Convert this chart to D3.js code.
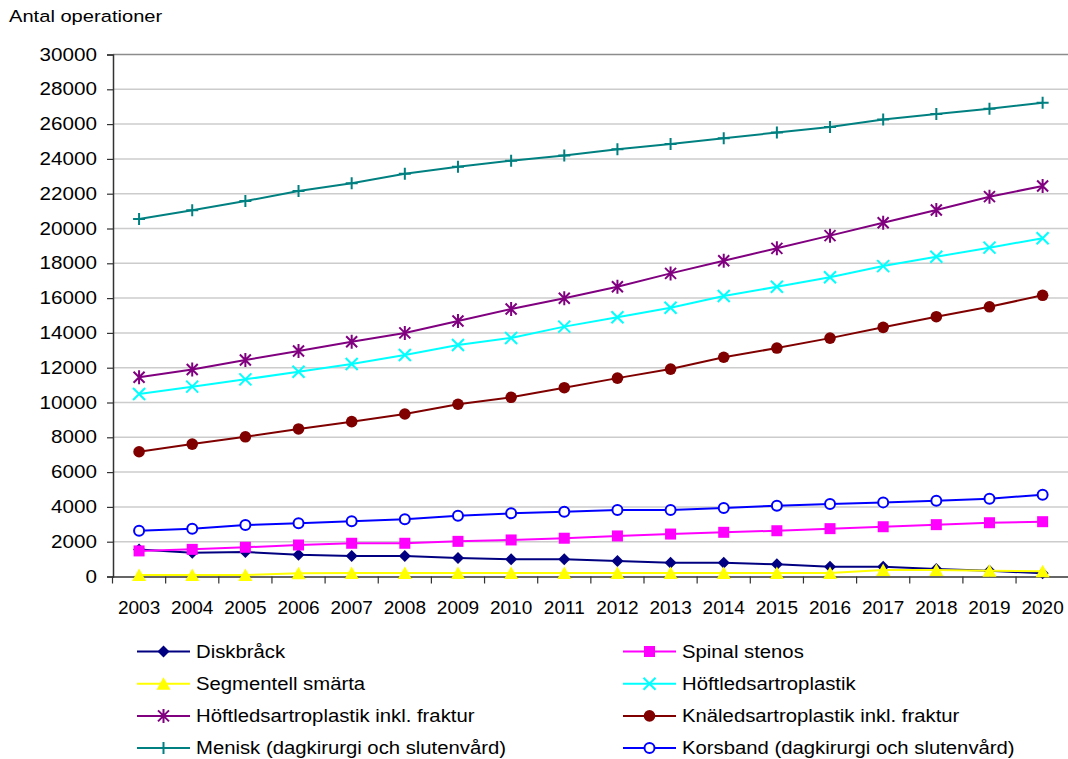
<!DOCTYPE html>
<html>
<head>
<meta charset="utf-8">
<script src="https://cdn.jsdelivr.net/npm/d3@7"></script>
<style>
  body { margin: 0; background: #fff; }
  svg { display: block; font-family: "Liberation Sans", Arial, sans-serif; }
</style>
</head>
<body>
<svg id="chart" width="1068" height="759"></svg>
<script>
const years = [2003, 2004, 2005, 2006, 2007, 2008, 2009, 2010, 2011, 2012, 2013, 2014, 2015, 2016, 2017, 2018, 2019, 2020];

const diskbrack = [1550, 1370, 1410, 1250, 1180, 1180, 1060, 990, 990, 890, 790, 790, 700, 560, 560, 430, 330, 180];
const spinalStenos = [1470, 1560, 1680, 1810, 1910, 1910, 2020, 2100, 2200, 2330, 2440, 2540, 2630, 2750, 2860, 2980, 3090, 3150];
const segmentell = [80, 80, 80, 180, 200, 200, 200, 200, 200, 200, 200, 200, 200, 200, 370, 370, 330, 300];
const hoftled = [10490, 10910, 11330, 11770, 12210, 12730, 13300, 13710, 14360, 14900, 15450, 16120, 16650, 17200, 17840, 18380, 18900, 19440];
const hoftledFraktur = [11450, 11900, 12440, 12960, 13490, 14000, 14680, 15370, 15990, 16650, 17420, 18150, 18860, 19590, 20330, 21060, 21830, 22440];
const knaled = [7170, 7610, 8030, 8480, 8900, 9340, 9900, 10300, 10850, 11400, 11920, 12600, 13130, 13700, 14320, 14930, 15500, 16160];
const menisk = [20550, 21050, 21580, 22150, 22600, 23150, 23550, 23900, 24200, 24550, 24850, 25180, 25520, 25830, 26270, 26580, 26880, 27230];
const korsband = [2630, 2750, 2960, 3060, 3170, 3290, 3490, 3630, 3720, 3820, 3820, 3940, 4070, 4170, 4260, 4360, 4470, 4700];

const seriesNames = [
  "Diskbråck", "Spinal stenos", "Segmentell smärta", "Höftledsartroplastik",
  "Höftledsartroplastik inkl. fraktur", "Knäledsartroplastik inkl. fraktur",
  "Menisk (dagkirurgi och slutenvård)", "Korsband (dagkirurgi och slutenvård)"
];
const seriesValues = [diskbrack, spinalStenos, segmentell, hoftled, hoftledFraktur, knaled, menisk, korsband];
const seriesColors = ["#000080", "#ff00ff", "#ffff00", "#00ffff", "#800080", "#800000", "#008080", "#0000ff"];
const seriesMarkers = ["diamond", "square", "triangle", "x", "star", "dot", "plus", "ring"];

const yTicks = d3.range(0, 30001, 2000);

const svg = d3.select("#chart");

const x = d3.scaleBand().domain(years).range([112.5, 112.5 + 18 * 53.15]);
const y = d3.scaleLinear().domain([0, 30000]).range([576.5, 54.5]);

// gridlines
svg.append("g")
  .selectAll("line")
  .data(yTicks.filter(d => d > 0))
  .enter()
  .append("line")
  .attr("x1", 113).attr("x2", 1068)
  .attr("y1", d => y(d)).attr("y2", d => y(d))
  .attr("stroke", d => d === 30000 ? "#8c8c8c" : "#cccccc")
  .attr("stroke-width", 1.5);

// Y axis (labels are a little wide in the original, hence the x-scale)
const yAxis = svg.append("g")
  .attr("transform", "translate(113,0)")
  .call(d3.axisLeft(y).tickValues(yTicks).tickSize(6).tickFormat(d3.format("d")));
yAxis.select(".domain").attr("stroke", "#333").attr("stroke-width", 1.5);
yAxis.selectAll(".tick line").attr("stroke", "#333").attr("stroke-width", 1.2);
yAxis.selectAll("text")
  .attr("x", -16 / 1.18)
  .attr("transform", "scale(1.18,1)")
  .attr("font-size", 17.5).attr("fill", "#000")
  .attr("font-family", "Liberation Sans, Arial, sans-serif");

// X axis
const xAxis = svg.append("g")
  .attr("transform", `translate(0,${y(0)})`)
  .call(d3.axisBottom(x).tickSize(0).tickPadding(24));
xAxis.select(".domain").attr("stroke", "#333").attr("stroke-width", 1.5);
xAxis.selectAll("text").attr("font-size", 19).attr("fill", "#000")
  .attr("font-family", "Liberation Sans, Arial, sans-serif");

// x ticks sit on category boundaries
svg.append("g")
  .selectAll("line")
  .data(years)
  .enter()
  .append("line")
  .attr("x1", d => x(d)).attr("x2", d => x(d))
  .attr("y1", y(0)).attr("y2", y(0) + 7)
  .attr("stroke", "#333").attr("stroke-width", 1.2);

// title
svg.append("text")
  .attr("transform", "translate(9,22) scale(1.22,1)")
  .attr("font-size", 16.5)
  .text("Antal operationer");

function drawMarker(g, type, color) {
  switch (type) {
    case "diamond":
      g.append("path").attr("d", "M0,-6L6,0L0,6L-6,0Z").attr("fill", color);
      break;
    case "square":
      g.append("rect").attr("x", -5.5).attr("y", -5.5).attr("width", 11).attr("height", 11).attr("fill", color);
      break;
    case "triangle":
      g.append("path").attr("d", "M0,-6.5L7,6L-7,6Z").attr("fill", color);
      break;
    case "x":
      g.append("path").attr("d", "M-6,-6L6,6M-6,6L6,-6").attr("stroke", color).attr("stroke-width", 2);
      break;
    case "star":
      g.append("path").attr("d", "M-5.5,-5.5L5.5,5.5M-5.5,5.5L5.5,-5.5M0,-7L0,7").attr("stroke", color).attr("stroke-width", 2);
      break;
    case "dot":
      g.append("circle").attr("r", 5.8).attr("fill", color);
      break;
    case "plus":
      g.append("path").attr("d", "M-6,0L6,0M0,-6L0,6").attr("stroke", color).attr("stroke-width", 2);
      break;
    case "ring":
      g.append("circle").attr("r", 5).attr("fill", "#fff").attr("stroke", color).attr("stroke-width", 2);
      break;
  }
}

const line = d3.line()
  .x((d, i) => x(years[i]) + x.bandwidth() / 2)
  .y(d => y(d));

seriesValues.forEach((vals, s) => {
  const g = svg.append("g");
  g.append("path")
    .attr("d", line(vals))
    .attr("fill", "none")
    .attr("stroke", seriesColors[s])
    .attr("stroke-width", 2);
  vals.forEach((v, i) => {
    const m = g.append("g")
      .attr("transform", `translate(${x(years[i]) + x.bandwidth() / 2},${y(v)})`);
    drawMarker(m, seriesMarkers[s], seriesColors[s]);
  });
});

// legend
const legend = svg.append("g");
seriesNames.forEach((name, s) => {
  const col = s % 2, row = Math.floor(s / 2);
  const lx = col === 0 ? 137 : 623;
  const ly = 651.5 + row * 32.2;
  const item = legend.append("g").attr("transform", `translate(${lx},${ly})`);
  item.append("line")
    .attr("x1", 0).attr("x2", 53)
    .attr("stroke", seriesColors[s]).attr("stroke-width", 2);
  const m = item.append("g").attr("transform", "translate(26.5,0)");
  drawMarker(m, seriesMarkers[s], seriesColors[s]);
  item.append("text")
    .attr("transform", "translate(59,6.3) scale(1.16,1)")
    .attr("font-size", 17.5)
    .text(name);
});
</script>
</body>
</html>
